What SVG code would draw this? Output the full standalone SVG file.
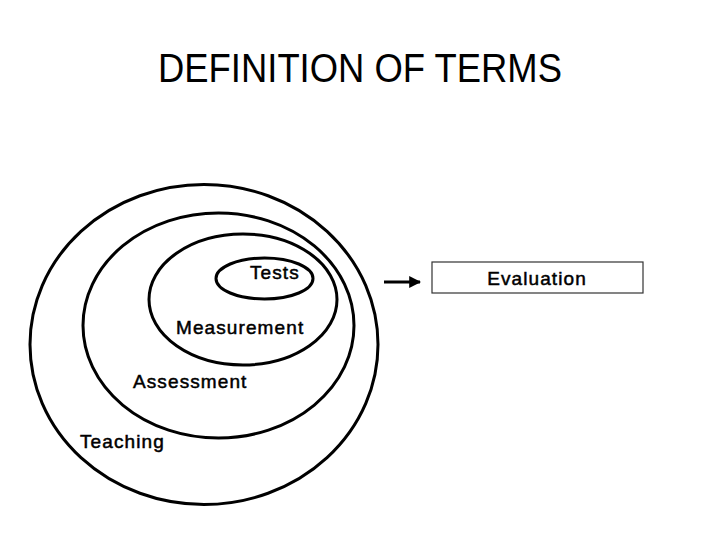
<svg xmlns="http://www.w3.org/2000/svg" width="720" height="540" viewBox="0 0 720 540">
<defs>
<style>
.ring{fill:none;stroke:#000;stroke-width:3}
.lbl{font-family:"Liberation Sans",Arial,sans-serif;font-size:19px;letter-spacing:1.1px;fill:#000;stroke:#000;stroke-width:0.5}
.title{font-family:"Liberation Sans",Arial,sans-serif;font-size:40px;fill:#000}
</style>
<marker id="ah" viewBox="0 0 10 10" refX="9" refY="5" markerWidth="4" markerHeight="4" orient="auto" markerUnits="strokeWidth"><path d="M0,0 L10,5 L0,10 z" fill="#000"/></marker>
</defs>
<rect width="720" height="540" fill="#fff"/>
<text class="title" x="360" y="82" text-anchor="middle" textLength="404" lengthAdjust="spacingAndGlyphs">DEFINITION OF TERMS</text>
<g id="teaching"><ellipse class="ring" cx="204" cy="344.5" rx="174" ry="160"/><text class="lbl" x="80" y="448">Teaching</text></g>
<g id="assessment"><ellipse class="ring" cx="218.5" cy="325.5" rx="135.5" ry="112.5"/><text class="lbl" x="133" y="388">Assessment</text></g>
<g id="measurement"><ellipse class="ring" cx="243" cy="299.5" rx="94" ry="65.5"/><text class="lbl" x="176" y="334">Measurement</text></g>
<g id="tests"><ellipse class="ring" cx="264.5" cy="278.5" rx="48.5" ry="20.5"/><text class="lbl" x="250" y="279">Tests</text></g>
<g id="evaluation"><rect x="432" y="262" width="211" height="31" fill="#fff" stroke="#333" stroke-width="1.2"/><text class="lbl" x="537" y="285" text-anchor="middle">Evaluation</text></g>
<g id="connectors"><line x1="384" y1="282" x2="420" y2="282" stroke="#000" stroke-width="3" marker-end="url(#ah)"/></g>
</svg>
